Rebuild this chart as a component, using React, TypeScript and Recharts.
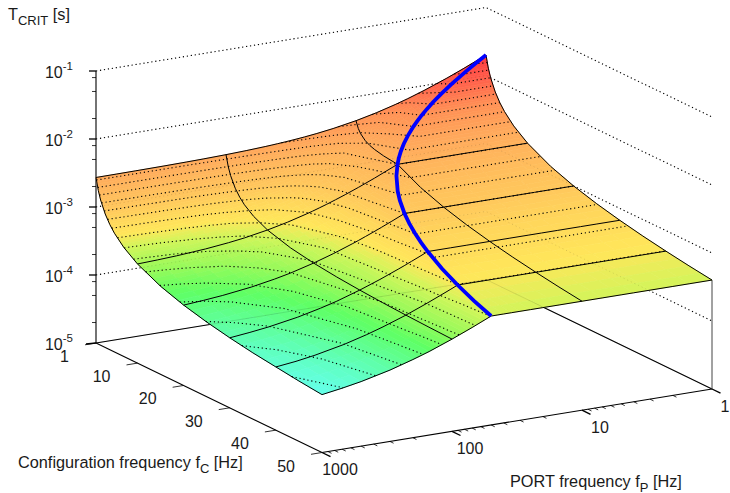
import React from "react";
import { ComposedChart, XAxis, YAxis, Line, Scatter } from "recharts";

// T is held in units of 10 microseconds, so log10(T) = decades above the 10^-5 floor.
const portFreqs = [1000, 700, 500, 300, 200, 150, 100, 70, 50, 45, 40, 35, 30, 25, 20, 15, 10, 7, 5, 4, 3, 2, 1.5, 1];
const configFreqs = [1, 1.5, 2, 3, 4, 5, 7, 10, 15, 20, 25, 30, 35, 40, 45, 50];

const tAt1 = [271.7, 272.5, 273.5, 275.8, 278.7, 281.5, 287.3, 294.7, 304.6, 308.4, 313.3, 319.4, 327.7, 339.2, 356.5, 385.3, 443, 517, 616, 702.5, 846.7, 1135, 1423, 2000];
const tAt1p5 = [181.7, 182.5, 183.5, 185.8, 188.7, 191.5, 197.3, 204.7, 214.6, 218.4, 223.3, 229.4, 237.7, 249.2, 266.5, 295.3, 353, 427, 526, 612.5, 756.7, 1045, 1333, 1333];
const tAt2 = [136.7, 137.5, 138.5, 140.8, 143.7, 146.5, 152.3, 159.7, 169.6, 173.4, 178.3, 184.4, 192.7, 204.2, 221.5, 250.3, 308, 382, 481, 567.5, 711.7, 1000, 1000, 1000];
const tAt3 = [91.7, 92.5, 93.5, 95.8, 98.7, 101.5, 107.3, 114.7, 124.6, 128.4, 133.3, 139.4, 147.7, 159.2, 176.5, 205.3, 263, 337, 436, 522.5, 666.7, 666.7, 666.7, 666.7];
const tAt4 = [69.2, 70, 71, 73.3, 76.2, 79, 84.8, 92.2, 102.1, 105.9, 110.8, 116.9, 125.2, 136.7, 154, 182.8, 240.5, 314.6, 413.5, 500, 500, 500, 500, 500];
const tAt5 = [55.7, 56.5, 57.5, 59.8, 62.7, 65.5, 71.3, 78.7, 88.6, 92.4, 97.3, 103.4, 111.7, 123.2, 140.5, 169.3, 227, 301, 400, 400, 400, 400, 400, 400];
const tAt7 = [40.3, 41, 42, 44.3, 47.2, 50.1, 55.9, 63.3, 73.2, 77, 81.8, 88, 96.2, 107.8, 125.1, 153.9, 211.6, 285.7, 285.7, 285.7, 285.7, 285.7, 285.7, 285.7];
const tAt10 = [28.7, 29.5, 30.5, 32.8, 35.7, 38.5, 44.3, 51.7, 61.6, 65.4, 70.3, 76.4, 84.7, 96.2, 113.5, 142.3, 200, 200, 200, 200, 200, 200, 200, 200];
const tAt15 = [19.7, 20.5, 21.5, 23.8, 26.7, 29.5, 35.3, 42.7, 52.6, 56.4, 61.3, 67.4, 75.7, 87.2, 104.5, 133.3, 133.3, 133.3, 133.3, 133.3, 133.3, 133.3, 133.3, 133.3];
const tAt20 = [15.2, 16, 17, 19.3, 22.2, 25, 30.8, 38.2, 48.1, 51.9, 56.8, 62.9, 71.2, 82.7, 100, 100, 100, 100, 100, 100, 100, 100, 100, 100];
const tAt25 = [12.5, 13.3, 14.3, 16.6, 19.5, 22.3, 28.1, 35.5, 45.4, 49.2, 54.1, 60.2, 68.5, 80, 80, 80, 80, 80, 80, 80, 80, 80, 80, 80];
const tAt30 = [10.7, 11.5, 12.5, 14.8, 17.7, 20.5, 26.3, 33.7, 43.6, 47.4, 52.3, 58.4, 66.7, 66.7, 66.7, 66.7, 66.7, 66.7, 66.7, 66.7, 66.7, 66.7, 66.7, 66.7];
const tAt35 = [9.4, 10.2, 11.2, 13.5, 16.4, 19.2, 25, 32.4, 42.3, 46.2, 51, 57.1, 57.1, 57.1, 57.1, 57.1, 57.1, 57.1, 57.1, 57.1, 57.1, 57.1, 57.1, 57.1];
const tAt40 = [8.5, 9.2, 10.2, 12.5, 15.4, 18.3, 24, 31.5, 41.4, 45.2, 50, 50, 50, 50, 50, 50, 50, 50, 50, 50, 50, 50, 50, 50];
const tAt45 = [7.7, 8.5, 9.5, 11.8, 14.7, 17.5, 23.3, 30.7, 40.6, 44.4, 44.4, 44.4, 44.4, 44.4, 44.4, 44.4, 44.4, 44.4, 44.4, 44.4, 44.4, 44.4, 44.4, 44.4];
const tAt50 = [7.1, 7.9, 8.9, 11.2, 14.1, 16.9, 22.7, 30.1, 40, 40, 40, 40, 40, 40, 40, 40, 40, 40, 40, 40, 40, 40, 40, 40];
const tTable = [tAt1, tAt1p5, tAt2, tAt3, tAt4, tAt5, tAt7, tAt10, tAt15, tAt20, tAt25, tAt30, tAt35, tAt40, tAt45, tAt50];

// Blue curve: fP = fC
const blueFreqs = [1, 1.2, 1.5, 2, 2.5, 3, 3.5, 4, 4.5, 5, 6, 7, 8, 9, 10, 12, 15, 17, 20, 22.5, 25, 27.5, 30, 35, 40, 45, 50];
const blueT = [2000, 1667, 1333, 1000, 800, 667, 571, 500, 444, 400, 333, 286, 250, 222, 200, 167, 133, 118, 100, 88.9, 80, 72.7, 66.7, 57.1, 50, 44.4, 40];

const zExponents = [-1, -2, -3, -4, -5];
const zMinorFactors = [2, 5, 8];
const configTicks = [1, 10, 20, 30, 40, 50];
const portMajorTicks = [1000, 100, 10, 1];
const portMinorFactors = [2, 3, 4, 5, 6, 7, 8, 9];
const configGridLines = [10, 20, 30, 40];
const portGridLines = [100, 10];
const contourLogs = [0.9, 1, 1.1, 1.2, 1.3, 1.4, 1.5, 1.6, 1.7, 1.8, 1.9, 2, 2.1, 2.2, 2.3, 2.4, 2.5, 2.6, 2.7, 2.8, 2.9, 3, 3.1, 3.2];

const paletteZ = [0.85, 1.0, 1.25, 1.4, 1.6, 1.72, 2.0, 2.4, 2.7, 3.0, 3.3];
const paletteRGB = [
  [100, 255, 235], [95, 255, 190], [95, 255, 100], [150, 250, 90], [210, 245, 90], [255, 230, 90],
  [255, 200, 92], [255, 172, 92], [255, 145, 85], [255, 95, 75], [255, 50, 60],
];

// Axis frame of the 3-D box on the page
const ORIGIN = { x: 96, y: 343 };
const FP_SPAN = { x: 390, y: -63.5 };
const FC_SPAN = { x: 226, y: 109.5 };
const DECADE = 68;

const uOf = (fP: number) => (3 - Math.log10(fP)) / 3;
const vOf = (fC: number) => (fC - 1) / 49;
const projUV = (u: number, v: number, z: number) => ({
  x: ORIGIN.x + FP_SPAN.x * u + FC_SPAN.x * v,
  y: ORIGIN.y + FP_SPAN.y * u + FC_SPAN.y * v - DECADE * z,
});
const proj = (fP: number, fC: number, z: number) => projUV(uOf(fP), vOf(fC), z);

const colorOf = (z: number) => {
  let i = 0;
  while (i < paletteZ.length - 2 && z > paletteZ[i + 1]) i++;
  const t = Math.min(1, Math.max(0, (z - paletteZ[i]) / (paletteZ[i + 1] - paletteZ[i])));
  const c = paletteRGB[i].map((a, k) => Math.round(a + (paletteRGB[i + 1][k] - a) * t));
  return `rgb(${c[0]},${c[1]},${c[2]})`;
};

const zTable = tTable.map((row) => row.map((t) => Math.log10(t)));

type Cell = { x: number; y: number; deltas: number[][]; fill: string };
const buildCells = () => {
  const cells: Cell[] = [];
  for (let r = 0; r < configFreqs.length - 1; r++) {
    for (let c = portFreqs.length - 2; c >= 0; c--) {
      const u0 = uOf(portFreqs[c + 1]);
      const u1 = uOf(portFreqs[c]);
      const v0 = vOf(configFreqs[r]);
      const v1 = vOf(configFreqs[r + 1]);
      const z00 = zTable[r][c + 1];
      const z10 = zTable[r][c];
      const z01 = zTable[r + 1][c + 1];
      const z11 = zTable[r + 1][c];
      const nu = Math.min(8, Math.max(1, Math.ceil(Math.max(Math.abs(z10 - z00), Math.abs(z11 - z01)) / 0.03)));
      const nv = Math.min(8, Math.max(1, Math.ceil(Math.max(Math.abs(z01 - z00), Math.abs(z11 - z10)) / 0.03)));
      const at = (a: number, b: number) => {
        const z = (1 - a) * (1 - b) * z00 + a * (1 - b) * z10 + (1 - a) * b * z01 + a * b * z11;
        return { p: projUV(u0 + (u1 - u0) * a, v0 + (v1 - v0) * b, z), z };
      };
      for (let j = 0; j < nv; j++) {
        for (let i = nu - 1; i >= 0; i--) {
          const q = [at(i / nu, j / nv), at((i + 1) / nu, j / nv), at((i + 1) / nu, (j + 1) / nv), at(i / nu, (j + 1) / nv)];
          const cx = (q[0].p.x + q[2].p.x) / 2;
          const cy = (q[0].p.y + q[2].p.y) / 2;
          const z = (q[0].z + q[1].z + q[2].z + q[3].z) / 4;
          cells.push({ x: cx, y: cy, deltas: q.map((e) => [e.p.x - cx, e.p.y - cy]), fill: colorOf(z) });
        }
      }
    }
  }
  return cells;
};
const surfaceCells = buildCells();

const CellShape = (props: any) => {
  const { cx, cy, payload } = props;
  const points = payload.deltas.map((d: number[]) => `${cx + d[0]},${cy + d[1]}`).join(" ");
  return <polygon points={points} fill={payload.fill} stroke={payload.fill} strokeWidth={0.7} />;
};

const rowLine = (r: number) => portFreqs.map((fP, c) => proj(fP, configFreqs[r], zTable[r][c]));
const colLine = (c: number) => configFreqs.map((fC, r) => proj(portFreqs[c], fC, zTable[r][c]));

const contourLine = (level: number) => {
  const pts: { x: number; y: number }[] = [];
  const last = configFreqs.length - 1;
  const inRange = (c: number) => zTable[last][c] <= level && zTable[0][c] >= level;
  for (let c = 0; c < portFreqs.length; c++) {
    if (c > 0 && inRange(c) !== inRange(c - 1)) {
      const r = (inRange(c) ? zTable[last][c - 1] > level : zTable[last][c] > level) ? last : 0;
      const a = zTable[r][c - 1];
      const b = zTable[r][c];
      const t = (level - a) / (b - a);
      const u = uOf(portFreqs[c - 1]) + (uOf(portFreqs[c]) - uOf(portFreqs[c - 1])) * t;
      pts.push(projUV(u, vOf(configFreqs[r]), level));
    }
    if (!inRange(c)) continue;
    for (let r = 0; r < last; r++) {
      const a = zTable[r][c];
      const b = zTable[r + 1][c];
      if (a >= level && b <= level && a !== b) {
        const t = (a - level) / (a - b);
        const v = vOf(configFreqs[r]) + (vOf(configFreqs[r + 1]) - vOf(configFreqs[r])) * t;
        pts.push(projUV(uOf(portFreqs[c]), v, level));
        break;
      }
    }
  }
  return pts;
};

const FP_LOW = 1;
const FP_HIGH = 1000;
const FC_LOW = 1;
const FC_HIGH = 50;
const floorZ = (e: number) => e + 5;

const zGridLines = zExponents.slice(0, 4).map((e) => [
  proj(FP_HIGH, FC_LOW, floorZ(e)),
  proj(FP_LOW, FC_LOW, floorZ(e)),
  proj(FP_LOW, FC_HIGH, floorZ(e)),
]);
const floorBack = [proj(FP_HIGH, FC_LOW, 0), proj(FP_LOW, FC_LOW, 0), proj(FP_LOW, FC_HIGH, 0)];
const floorFrontFc = [proj(FP_HIGH, FC_LOW, 0), proj(FP_HIGH, FC_HIGH, 0)];
const floorFrontFp = [proj(FP_HIGH, FC_HIGH, 0), proj(FP_LOW, FC_HIGH, 0)];
const zAxisLine = [proj(FP_HIGH, FC_LOW, 0), proj(FP_HIGH, FC_LOW, floorZ(-1))];
const rightPost = [proj(FP_LOW, FC_HIGH, 0), proj(FP_LOW, FC_HIGH, zTable[configFreqs.length - 1][portFreqs.length - 1])];

const ticks: { x: number; y: number }[][] = [];
const wide: { x: number; y: number }[][] = [];
zExponents.forEach((e) => {
  const p = proj(FP_HIGH, FC_LOW, floorZ(e));
  wide.push([p, { x: p.x - (e === -5 ? 10 : 7), y: p.y + (e === -5 ? 1 : 0) }]);
  if (e < -1) {
    zMinorFactors.forEach((m) => {
      const q = proj(FP_HIGH, FC_LOW, floorZ(e) + Math.log10(m));
      ticks.push([q, { x: q.x - 4, y: q.y }]);
    });
  }
});
configTicks.forEach((t) => {
  const p = proj(FP_HIGH, t, 0);
  ticks.push([p, { x: p.x - 11, y: p.y + 1.8 }]);
});
portMajorTicks.forEach((t) => {
  const p = proj(t, FC_HIGH, 0);
  wide.push([p, { x: p.x + 8.5, y: p.y + 4.2 }]);
  if (t > 1) {
    portMinorFactors.forEach((m) => {
      const q = proj((t / 10) * m, FC_HIGH, 0);
      ticks.push([q, { x: q.x + 3.6, y: q.y + 1.8 }]);
    });
  }
});

const FONT = "'Liberation Sans', Arial, sans-serif";
type Lab = { x: number; y: number; kind: string; main: string; tail?: string; sub?: string };
const labelData: Lab[] = [
  ...zExponents.map((e) => ({ ...proj(FP_HIGH, FC_LOW, floorZ(e)), kind: "z", main: "10", tail: String(e) })),
  ...configTicks.map((t) => ({ ...proj(FP_HIGH, t, 0), kind: "fc", main: String(t) })),
  ...portMajorTicks.map((t) => ({ ...proj(t, FC_HIGH, 0), kind: "fp", main: String(t) })),
];
const titleData: Lab[] = [
  { x: 8, y: 20, kind: "title", main: "T", sub: "CRIT", tail: " [s]" },
  { x: 18, y: 468, kind: "title", main: "Configuration frequency f", sub: "C", tail: " [Hz]" },
  { x: 510, y: 487, kind: "title", main: "PORT frequency f", sub: "P", tail: " [Hz]" },
];

const LabelShape = (props: any) => {
  const { cx, cy, payload: p } = props;
  const common = { fontFamily: FONT, fontSize: 16, fill: "#1a1a1a" };
  if (p.kind === "z") {
    return (
      <text x={73} y={cy + 7.4} textAnchor="end" {...common}>
        {p.main}
        <tspan dy={-8} fontSize={11.5}>{p.tail}</tspan>
      </text>
    );
  }
  if (p.kind === "fc") return <text x={cx - 27} y={cy + 19} textAnchor="end" {...common}>{p.main}</text>;
  if (p.kind === "fp") return <text x={Math.min(cx + 18, 725)} y={cy + 22.6} textAnchor="middle" {...common}>{p.main}</text>;
  return (
    <text x={cx} y={cy} {...common} fontSize={16.3}>
      {p.main}
      <tspan dy={4.5} fontSize={13}>{p.sub}</tspan>
      <tspan dy={-4.5}>{p.tail}</tspan>
    </text>
  );
};

const DOTS = "1.2 2.8";

const poly = (key: string, data: { x: number; y: number }[], stroke: string, width: number, z: number, extra: any = {}) => (
  <Line
    key={key}
    data={data}
    dataKey="y"
    stroke={stroke}
    strokeWidth={width}
    dot={false}
    activeDot={false}
    legendType="none"
    type="linear"
    isAnimationActive={false}
    zIndex={z}
    {...extra}
  />
);

export default function App() {
  const lastR = configFreqs.length - 1;
  const lastC = portFreqs.length - 1;
  const outline = [
    ...rowLine(0),
    ...colLine(lastC).slice(1),
    ...rowLine(lastR).reverse().slice(1),
    ...colLine(0).reverse().slice(1),
  ];
  return (
    <div style={{ position: "absolute", left: 0, top: 0, width: 730, height: 493 }}>
      <ComposedChart width={730} height={493} margin={{ top: 0, right: 0, bottom: 0, left: 0 }}>
        <XAxis type="number" dataKey="x" domain={[0, 730]} hide allowDataOverflow />
        <YAxis type="number" dataKey="y" domain={[0, 493]} reversed hide allowDataOverflow />

        {zGridLines.map((d, i) => poly(`zg${i}`, d, "#000", 1.1, 100, { strokeDasharray: DOTS }))}
        {poly("floorBack", floorBack, "#000", 1.1, 100)}
        {poly("floorFc", floorFrontFc, "#000", 1.1, 100)}
        {poly("floorFp", floorFrontFp, "#000", 1.1, 100)}
        {poly("zaxis", zAxisLine, "#000", 1.1, 100)}
        {poly("post", rightPost, "#444", 1, 100)}
        {ticks.map((d, i) => poly(`t${i}`, d, "#000", 0.8, 100))}
        {wide.map((d, i) => poly(`w${i}`, d, "#000", 1.3, 100))}

        <Scatter data={surfaceCells} shape={CellShape} isAnimationActive={false} zIndex={200} legendType="none" />

        {zGridLines.map((d, i) => poly(`zf${i}`, d, "#000", 1, 300, { strokeDasharray: DOTS, strokeOpacity: 0.1 }))}
        {poly("floorFaint", floorBack, "#000", 1, 300, { strokeOpacity: 0.1 })}
        {contourLogs.map((l) => poly(`c${l}`, contourLine(l), "#000", 1.1, 300, { strokeDasharray: DOTS }))}
        {configGridLines.map((f) => poly(`gc${f}`, rowLine(configFreqs.indexOf(f)), "#000", 1, 310))}
        {portGridLines.map((f) => poly(`gp${f}`, colLine(portFreqs.indexOf(f)), "#000", 1, 310))}
        {poly("outline", outline, "#000", 1, 320)}
        {poly("blue", blueFreqs.map((f, i) => proj(f, f, Math.log10(blueT[i]))), "#0000ff", 3.8, 330)}

        <Scatter data={labelData} shape={LabelShape} isAnimationActive={false} zIndex={400} legendType="none" />
        <Scatter data={titleData} shape={LabelShape} isAnimationActive={false} zIndex={400} legendType="none" />
      </ComposedChart>
    </div>
  );
}
